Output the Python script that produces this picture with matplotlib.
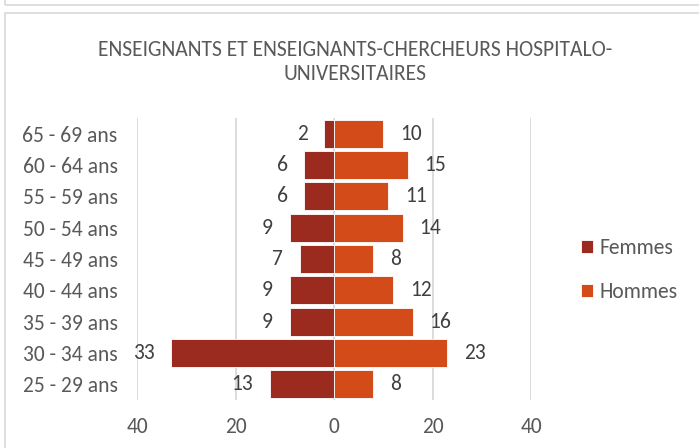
import matplotlib
matplotlib.use("Agg")
import matplotlib.pyplot as plt
from matplotlib.patches import Rectangle
import numpy as np

plt.rcParams['font.family'] = ['Carlito', 'DejaVu Sans']

categories = ["25 - 29 ans", "30 - 34 ans", "35 - 39 ans", "40 - 44 ans", "45 - 49 ans",
              "50 - 54 ans", "55 - 59 ans", "60 - 64 ans", "65 - 69 ans"]
femmes = [13, 33, 9, 9, 7, 9, 6, 6, 2]
hommes = [8, 23, 16, 12, 8, 14, 11, 15, 10]
xticks = [-40, -20, 0, 20, 40]
xticklabels = ["40", "20", "0", "20", "40"]
title = "ENSEIGNANTS ET ENSEIGNANTS-CHERCHEURS HOSPITALO-\nUNIVERSITAIRES"

c_f = "#9B2B1E"
c_h = "#D24B19"
txt = "#595959"

fig = plt.figure(figsize=(6.99, 4.48), dpi=100)
W, H = 699, 448
# frames
fig.patches.append(Rectangle((5 / W, 1 - 5 / H), 1.2, 0.1, transform=fig.transFigure,
                             fill=False, edgecolor="#D9D9D9", linewidth=1.2))
fig.patches.append(Rectangle((5 / W, -0.1), 1.2, 1 - 13 / H + 0.1, transform=fig.transFigure,
                             fill=False, edgecolor="#D9D9D9", linewidth=1.2))

ax = fig.add_axes([137 / W, 1 - 400 / H, (531 - 137) / W, (400 - 118) / H])
y = np.arange(len(categories))
f = -np.array(femmes)
h = np.array(hommes)
bf = ax.barh(y, f, height=0.9, color=c_f, edgecolor="white", linewidth=0.6, zorder=3, label="Femmes")
bh = ax.barh(y, h, height=0.9, color=c_h, edgecolor="white", linewidth=0.6, zorder=3, label="Hommes")

for yi, v in zip(y, femmes):
    ax.annotate(str(v), (-v, yi), xytext=(-12, 0), textcoords="offset points",
                ha="right", va="center", fontsize=15.5, color="#404040")
for yi, v in zip(y, hommes):
    ax.annotate(str(v), (v, yi), xytext=(12, 0), textcoords="offset points",
                ha="left", va="center", fontsize=15.5, color="#404040")

ax.set_xlim(-40, 40)
ax.set_ylim(-0.5, len(categories) - 0.5)
ax.set_xticks(xticks)
ax.set_xticklabels(xticklabels)
ax.set_yticks(y)
ax.set_yticklabels(categories)
ax.tick_params(axis="both", length=0, labelsize=15.5, labelcolor=txt)
ax.tick_params(axis="y", pad=14)
ax.tick_params(axis="x", pad=12)
ax.grid(axis="x", color="#D9D9D9", linewidth=1.3, zorder=0)
for s in ax.spines.values():
    s.set_visible(False)

fig.text(355 / W, 1 - 62 / H, title, ha="center", va="center", fontsize=15.5,
         color=txt, linespacing=1.3)

fig.legend(handles=[bf, bh], labels=["Femmes", "Hommes"], loc="center left",
           bbox_to_anchor=(562 / W, 1 - 270 / H), frameon=False, fontsize=15.5,
           labelcolor=txt, handlelength=0.55, handleheight=0.55, handletextpad=0.3,
           labelspacing=1.1)

fig.savefig("out.png", dpi=100)
